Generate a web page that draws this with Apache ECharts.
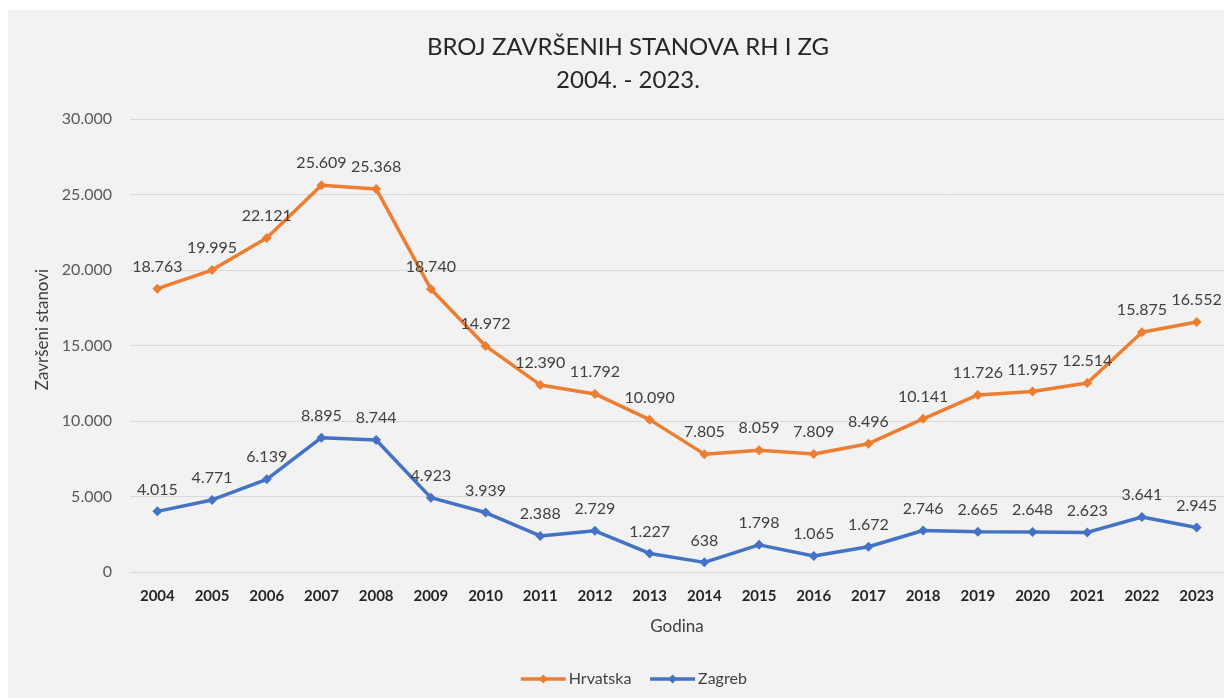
<!DOCTYPE html>
<html>
<head>
<meta charset="utf-8">
<script src="https://cdn.jsdelivr.net/npm/echarts@6/dist/echarts.min.js"></script>
<style>
  html, body { margin: 0; padding: 0; background: #fff; }
  #bg { position: absolute; left: 8px; top: 10px; right: 0; bottom: 0; background: #f2f2f2; }
  #chart { position: absolute; left: 0; top: 0; width: 1224px; height: 698px; }
</style>
</head>
<body>
<div id="bg"></div>
<div id="chart"></div>
<script>
const years = ["2004", "2005", "2006", "2007", "2008", "2009", "2010", "2011", "2012", "2013",
  "2014", "2015", "2016", "2017", "2018", "2019", "2020", "2021", "2022", "2023"];
const hrvatska = [18763, 19995, 22121, 25609, 25368, 18740, 14972, 12390, 11792, 10090,
  7805, 8059, 7809, 8496, 10141, 11726, 11957, 12514, 15875, 16552];
const zagreb = [4015, 4771, 6139, 8895, 8744, 4923, 3939, 2388, 2729, 1227,
  638, 1798, 1065, 1672, 2746, 2665, 2648, 2623, 3641, 2945];

const font = "Lato, 'Open Sans', sans-serif";

// 12345 -> "12.345"
function fmt(v) {
  return String(v).replace(/\B(?=(\d{3})+(?!\d))/g, ".");
}

function lineSeries(name, data, color) {
  return {
    name: name,
    type: "line",
    data: data,
    symbol: "diamond",
    symbolSize: 10,
    lineStyle: { color: color, width: 3.5 },
    itemStyle: { color: color },
    label: {
      show: true,
      position: "top",
      distance: 9,
      color: "#404040",
      fontSize: 16,
      fontFamily: font,
      formatter: p => fmt(p.value)
    }
  };
}

const chart = echarts.init(document.getElementById("chart"));
chart.setOption({
  animation: false,
  textStyle: { fontFamily: font },
  title: {
    text: "BROJ ZAVRŠENIH STANOVA RH I ZG\n2004. - 2023.",
    left: 623,
    textAlign: "center",
    top: 26,
    textStyle: {
      fontSize: 24,
      fontWeight: "normal",
      color: "#262626",
      lineHeight: 33,
      fontFamily: font
    }
  },
  legend: {
    bottom: 6,
    left: 514,
    itemWidth: 45,
    itemHeight: 11,
    itemGap: 17,
    lineStyle: { width: 3.5 },
    textStyle: { color: "#404040", fontSize: 16, fontFamily: font, padding: [0, 0, 0, -2] },
    data: ["Hrvatska", "Zagreb"]
  },
  grid: { left: 130, right: -3, top: 119, bottom: 126 },
  xAxis: {
    type: "category",
    data: years,
    name: "Godina",
    nameLocation: "middle",
    nameGap: 46,
    nameTextStyle: { color: "#404040", fontSize: 17 },
    axisLine: { lineStyle: { color: "#d9d9d9" } },
    axisTick: { show: false },
    axisLabel: { color: "#262626", fontSize: 15, fontWeight: "bold", margin: 17 }
  },
  yAxis: {
    type: "value",
    min: 0,
    max: 30000,
    interval: 5000,
    name: "Završeni stanovi",
    nameLocation: "middle",
    nameGap: 78,
    nameTextStyle: { color: "#404040", fontSize: 17, padding: [0, 0, 0, 32] },
    axisLine: { show: false },
    axisTick: { show: false },
    splitLine: { lineStyle: { color: "#d9d9d9" } },
    axisLabel: { color: "#595959", fontSize: 16, margin: 18, formatter: v => fmt(v) }
  },
  series: [
    lineSeries("Hrvatska", hrvatska, "#ed7d31"),
    lineSeries("Zagreb", zagreb, "#4472c4")
  ]
});
</script>
</body>
</html>
